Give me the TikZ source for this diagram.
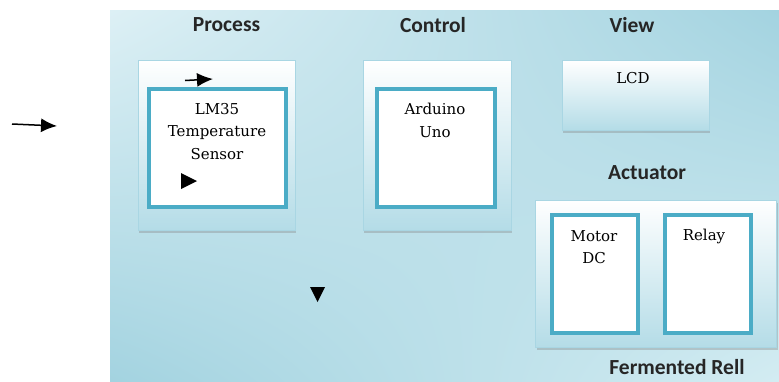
\documentclass[tikz,border=0pt]{standalone}
\usepackage{fontspec}
\newfontfamily\titlefont{Carlito}
\newfontfamily\boxfont{DejaVu Serif}
\usetikzlibrary{arrows.meta,shadows,shadings,positioning}

\definecolor{panelLight}{HTML}{DDF0F5}
\definecolor{panelDark}{HTML}{A3D3E0}
\definecolor{panelCorner}{HTML}{D3ECF2}
\definecolor{boxBottom}{HTML}{B4DCE7}
\definecolor{boxEdge}{HTML}{A9D6E3}
\definecolor{frameTeal}{HTML}{4BACC6}

\tikzset{
  heading/.style={font=\titlefont\bfseries\fontsize{21.5}{23}\selectfont, text=black!85},
  caption/.style={font=\boxfont\fontsize{15}{22.5}\selectfont, align=center, anchor=north, inner sep=0pt},
  outerbox/.style={draw=boxEdge, line width=0.8pt, top color=white, bottom color=boxBottom,
    drop shadow={shadow xshift=1pt, shadow yshift=-2.5pt, opacity=0.35}, inner sep=0pt},
  innerbox/.style={draw=frameTeal, line width=4pt, fill=white, inner sep=0pt},
  tri/.style={fill=black}
}

\begin{document}
\begin{tikzpicture}[x=1pt,y=-1pt]
\useasboundingbox (0,0) rectangle (779,381);
% background panel
\shade[upper left=panelLight, upper right=panelDark, lower left=panelDark, lower right=panelCorner]
  (110,10) rectangle (779,381);

% headings
\node[heading] (process) at (226.5,25) {Process};
\node[heading] (control) at (433,25) {Control};
\node[heading] (view) at (632,25) {View};
\node[heading] (actuator) at (647,173) {Actuator};
\node[heading] (rell) at (677,367) {Fermented Rell};

% process
\node[outerbox, minimum width=157, minimum height=170] (procbox) at (216.5,145) {};
\node[innerbox, minimum width=137, minimum height=118] (sensor) at (217.5,148) {};
\node[caption] (sensortext) at (217,103) {LM35\\Temperature\\Sensor};

% control
\node[outerbox, minimum width=148, minimum height=170] (ctrlbox) at (437,145) {};
\node[innerbox, minimum width=118, minimum height=118] (arduino) at (436,148) {};
\node[caption] (arduinotext) at (435,103) {Arduino\\Uno};

% view
\node[outerbox, minimum width=147, minimum height=70] (lcd) at (635.5,95) {};
\node[caption] (lcdtext) at (633,72) {LCD};

% actuator
\node[outerbox, minimum width=241, minimum height=147] (actbox) at (656,273.5) {};
\node[innerbox, minimum width=86, minimum height=118] (motor) at (595,274) {};
\node[innerbox, minimum width=86, minimum height=118] (relay) at (708,274) {};
\node[caption] (motortext) at (594,230) {Motor\\DC};
\node[caption] (relaytext) at (704,228.5) {Relay};

% arrows
\coordinate (inA) at (12,124);
\coordinate (inB) at (57,126);
\draw[-{Latex[length=16pt,width=14pt]}, line width=1.5pt] (inA) -- (inB);
\coordinate (topA) at (185,80.5);
\coordinate (topB) at (213,79);
\draw[-{Latex[length=16pt,width=14pt]}, line width=1.5pt] (topA) -- (topB);

% loose tips
\coordinate (tipR) at (181,173);
\fill[tri] (tipR) -- ++(16,8) -- ++(-16,8) -- cycle;
\coordinate (tipD) at (310,287);
\fill[tri] (tipD) -- ++(15,0) -- ++(-7.5,15) -- cycle;
\end{tikzpicture}
\end{document}
